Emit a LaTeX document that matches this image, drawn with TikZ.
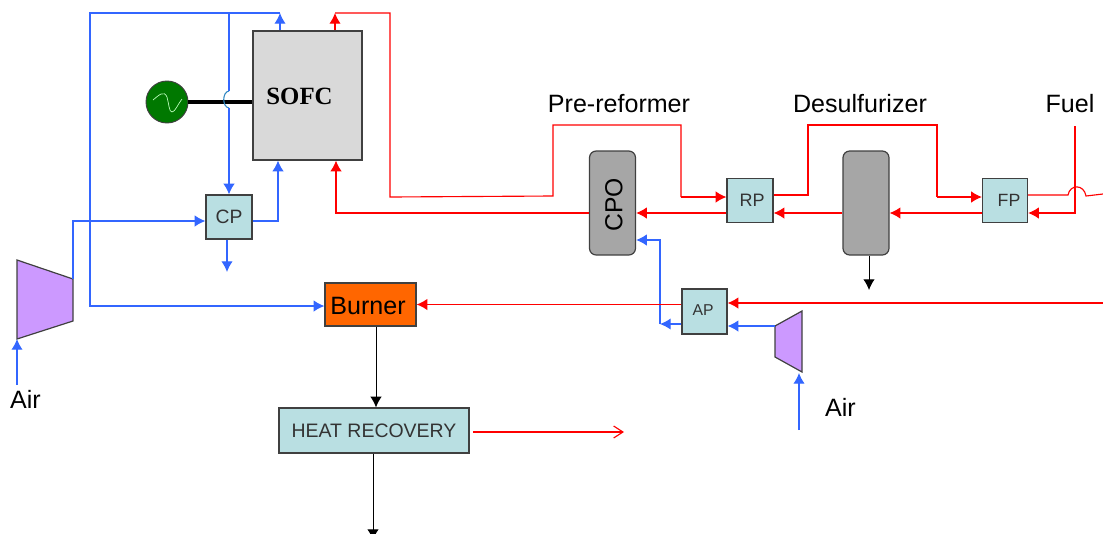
\documentclass[tikz,border=0pt]{standalone}
\usepackage{fontspec}
\setmainfont{Liberation Sans}
\newfontfamily\serifbold{Liberation Serif}
\usetikzlibrary{arrows.meta}
\definecolor{boxteal}{HTML}{B9DFE2}
\definecolor{boxgrey}{HTML}{D9D9D9}
\definecolor{vessel}{HTML}{A6A6A6}
\definecolor{burnerfill}{HTML}{FF6600}
\definecolor{compfill}{HTML}{CC99FF}
\definecolor{genfill}{HTML}{007800}
\definecolor{airblue}{HTML}{3366FF}
\definecolor{hopblue}{HTML}{2E86C1}
\definecolor{edge}{HTML}{404040}
\newcommand{\fsz}[1]{\fontsize{#1}{#1}\selectfont}
\tikzset{
  x=0.75pt,y=-0.75pt,
  unit/.style={draw=edge,line width=0.9pt,inner sep=0pt,anchor=center},
  hx/.style={unit,fill=boxteal,text=black!80},
  vesselbox/.style={unit,fill=vessel,rounded corners=5pt,minimum width=34.5pt,minimum height=78pt},
  comp/.style={draw=edge,line width=0.9pt,fill=compfill},
  lab/.style={inner sep=0pt,font=\fsz{18.8}},
  air/.style={draw=airblue,line width=0.85pt},
  hot/.style={draw=red,line width=0.85pt},
  blk/.style={draw=black,line width=0.7pt},
  tip/.style={-{Latex[length=8pt,width=8.5pt]}},
}
\begin{document}
\begin{tikzpicture}
\useasboundingbox (0,0) rectangle (1103,533);
\clip (0,0) rectangle (1103,533);
% units
\node[unit,fill=boxgrey,minimum width=81.75pt,minimum height=96.75pt] (sofc) at (307.5,95.5) {};
\node[inner sep=0pt,font=\serifbold\bfseries\fsz{18.6}] (sofclabel) at (299.5,96) {SOFC};
\node[draw=edge,line width=0.7pt,fill=genfill,circle,minimum size=31.5pt,inner sep=0pt] (gen) at (167,102) {};
\node[hx,minimum width=34.5pt,minimum height=33pt,font=\fsz{14.5}] (cp) at (229,217) {CP};
\node[unit,fill=burnerfill,minimum width=68.25pt,minimum height=32.25pt] (burner) at (370.5,304.5) {};
\node[inner sep=0pt,font=\fsz{18.8}] (burnerlabel) at (368,305.5) {Burner};
\node[hx,minimum width=142.5pt,minimum height=33.75pt,font=\fsz{14.6}] (hr) at (374,430.5) {HEAT RECOVERY};
\node[vesselbox] (cpo) at (612.5,203) {};
\node[rotate=90,inner sep=0pt,font=\fsz{18.5}] (cpolabel) at (614,205) {CPO};
\node[vesselbox] (desulf) at (866,203) {};
\node[hx,minimum width=34.5pt,minimum height=33pt] (rp) at (750,200.5) {};
\node[inner sep=0pt,text=black!80,font=\fsz{13.5}] (rplabel) at (752,200.5) {RP};
\node[hx,minimum width=33.75pt,minimum height=33pt] (fp) at (1005,200.5) {};
\node[inner sep=0pt,text=black!80,font=\fsz{13.3}] (fplabel) at (1009,200.5) {FP};
\node[hx,minimum width=33.75pt,minimum height=33.75pt] (ap) at (704.5,311.5) {};
\node[inner sep=0pt,text=black!80,font=\fsz{11.8}] (aplabel) at (703,310.5) {AP};
\path[comp] (17,260) -- (73,279) -- (73,321) -- (17,339) -- cycle;
\path[comp] (775,326) -- (802,311) -- (802,372) -- (775,357) -- cycle;
\coordinate (compL) at (73,279);
\coordinate (compLin) at (17,339);
\coordinate (compS) at (775,326);
\coordinate (compSin) at (799,373);
% text labels
\node[lab] (prelabel) at (619,103.5) {Pre-reformer};
\node[lab] (deslabel) at (860,103.5) {Desulfurizer};
\node[lab] (fuellabel) at (1070,103.5) {Fuel};
\node[lab] (airL) at (25.5,399.5) {Air};
\node[lab] (airS) at (840.5,407.5) {Air};
% generator sine
\draw[draw=green!25!white,line width=0.5pt] (153,100) .. controls (159,95) and (164,90) .. (167,97) .. controls (169,104) and (169,112) .. (172,112) .. controls (175,112) and (178,104) .. (182,99);
% electrical link
\draw[black,line width=2.7pt] (gen.east) -- (gen.east -| sofc.west);
% air network
\coordinate (a1) at (280,13);
\coordinate (a2) at (90,13);
\coordinate (a3) at (229,13);
\coordinate (h1) at (229,91);
\coordinate (h2) at (229,108);
\coordinate (a4) at (278,221);
\coordinate (a5) at (73,221);
\coordinate (a6) at (227,272);
\coordinate (a7) at (17,385);
\coordinate (a8) at (660,324);
\coordinate (a9) at (660,240);
\coordinate (a10) at (799,430);
\coordinate (a11) at (90,306);
\draw[air,tip] (sofc.north -| a1) -- (a1);
\draw[air,tip] (a1) -- (a2) -- (a11) -- (burner.west |- a11);
\draw[air] (a3) -- (h1);
\draw[draw=hopblue,line width=0.8pt] (h1) .. controls (222,92) and (222,107) .. (h2);
\draw[air,tip] (h2) -- (cp.north -| h2);
\draw[air,tip] (cp.east |- a4) -- (a4) -- (sofc.south -| a4);
\draw[air,tip] (compL) -- (a5) -- (cp.west |- a5);
\draw[air,tip] (cp.south -| a6) -- (a6);
\draw[air,tip] (a7) -- (compLin);
\draw[air,tip] (ap.west |- a8) -- (a8);
\draw[air,tip] (a8) -- (a9) -- (cpo.east |- a9);
\draw[air,tip] (compS) -- (ap.east |- compS);
\draw[air,tip] (a10) -- (compSin);
% hot network
\coordinate (r1) at (335,13);
\coordinate (r2) at (390,13);
\coordinate (r3) at (390,197);
\coordinate (r4) at (553,196);
\coordinate (r5) at (553,125);
\coordinate (r6) at (681,125);
\coordinate (r7) at (681,197);
\coordinate (r8) at (808,195);
\coordinate (r9) at (808,125);
\coordinate (r10) at (937,125);
\coordinate (r11) at (937,197);
\coordinate (r12) at (1068,195);
\coordinate (r13) at (1086,196);
\coordinate (r14) at (1103,194);
\coordinate (f1) at (1075,126);
\coordinate (f2) at (1075,213);
\coordinate (r15) at (336,213);
\coordinate (r16) at (1110,303);
\coordinate (r17) at (473,432);
\coordinate (r18) at (624,432);
\draw[hot,tip] (sofc.north -| r1) -- (r1);
\draw[hot] (r1) -- (r2) -- (r3) -- (r4) -- (r5) -- (r6) -- (r7);
\draw[hot,tip] (r7) -- (rp.west |- r7);
\draw[hot] (rp.east |- r8) -- (r8) -- (r9) -- (r10) -- (r11);
\draw[hot,tip] (r11) -- (fp.west |- r11);
\draw[hot] (fp.east |- r12) -- (r12) .. controls (1070,184) and (1084,184) .. (r13) -- (r14);
\draw[hot,tip] (f1) -- (f2) -- (fp.east |- f2);
\draw[hot,tip] (fp.west |- f2) -- (desulf.east |- f2);
\draw[hot,tip] (desulf.west |- f2) -- (rp.east |- f2);
\draw[hot,tip] (rp.west |- f2) -- (cpo.east |- f2);
\draw[hot,tip] (cpo.west |- f2) -- (r15) -- (sofc.south -| r15);
\draw[hot,tip] (r16) -- (ap.east |- r16);
\draw[hot,tip] (ap.west |- burner.east) -- (burner.east);
\draw[hot,-{Straight Barb[length=7pt,width=9pt]}] (r17) -- (r18);
% black flows
\coordinate (b1) at (376,326);
\coordinate (b2) at (373,540);
\coordinate (b3) at (869,290);
\draw[blk,tip] (burner.south -| b1) -- (hr.north -| b1);
\draw[blk,tip] (hr.south -| b2) -- (b2);
\draw[blk,tip] (desulf.south -| b3) -- (b3);
\end{tikzpicture}
\end{document}
